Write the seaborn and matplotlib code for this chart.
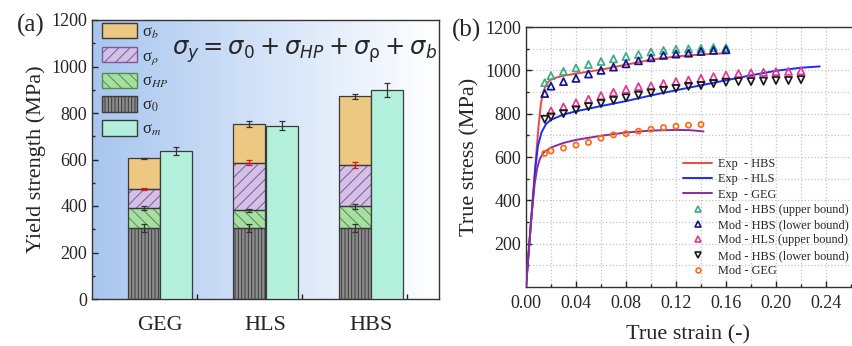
import numpy as np
import matplotlib
matplotlib.use("Agg")
import matplotlib.pyplot as plt
from matplotlib.colors import LinearSegmentedColormap
from matplotlib.patches import Patch
from matplotlib.lines import Line2D
import seaborn as sns

# ---------------- data ----------------
alloys = ["GEG", "HLS", "HBS"]
# strengthening contributions (MPa), stacked bottom to top
sigma_0 = [305, 305, 305]
sigma_hp = [86, 77, 93]
sigma_rho = [82, 205, 179]
sigma_b = [133, 165, 295]
sigma_m = [638, 745, 900]
# error on the top of each stacked layer
err_0 = [16, 16, 16]
err_hp = [8, 6, 10]
err_rho = [6, 12, 13]
err_b = [2, 12, 10]
err_m = [17, 20, 31]

# experimental true stress-strain curves
exp_hbs_strain = [0, 0.004, 0.008, 0.010, 0.012, 0.014, 0.017, 0.020, 0.025, 0.030, 0.040,
                  0.060, 0.080, 0.100, 0.120, 0.140, 0.160]
exp_hbs_stress = [0, 300, 600, 740, 850, 905, 942, 958, 968, 975, 985,
                  1003, 1026, 1049, 1064, 1073, 1079]
exp_hls_strain = [0, 0.004, 0.0075, 0.0095, 0.0125, 0.016, 0.020, 0.030, 0.040, 0.060, 0.080,
                  0.100, 0.120, 0.140, 0.160, 0.180, 0.200, 0.220, 0.235]
exp_hls_stress = [0, 300, 550, 650, 715, 752, 772, 796, 811, 835, 858,
                  884, 908, 931, 954, 977, 998, 1012, 1018]
exp_geg_strain = [0, 0.004, 0.007, 0.009, 0.011, 0.014, 0.020, 0.030, 0.040, 0.060, 0.080,
                  0.100, 0.120, 0.131, 0.142]
exp_geg_stress = [0, 300, 480, 550, 590, 620, 644, 665, 679, 698, 713,
                  722, 725, 724, 718]

# model predictions
mod_strain_16 = [0.015, 0.02, 0.03, 0.04, 0.05, 0.06, 0.07, 0.08, 0.09, 0.10,
                 0.11, 0.12, 0.13, 0.14, 0.15, 0.16]
mod_hbs_upper = [943, 975, 995, 1011, 1027, 1041, 1053, 1064, 1073, 1085,
                 1092, 1097, 1099, 1101, 1105, 1104]
mod_hbs_lower = [893, 927, 948, 963, 983, 1000, 1015, 1030, 1044, 1058,
                 1069, 1075, 1079, 1087, 1092, 1095]
mod_hls_upper_strain = [0.02, 0.03, 0.04, 0.05, 0.06, 0.07, 0.08, 0.09, 0.10, 0.11,
                        0.12, 0.13, 0.14, 0.15, 0.16, 0.17, 0.18, 0.19, 0.20, 0.21, 0.22]
mod_hls_upper = [813, 831, 850, 867, 883, 899, 912, 925, 928, 939,
                 948, 955, 963, 971, 978, 985, 988, 991, 994, 995, 998]
mod_hls_lower_strain = [0.015, 0.02, 0.03, 0.04, 0.05, 0.06, 0.07, 0.08, 0.09, 0.10, 0.11,
                        0.12, 0.13, 0.14, 0.15, 0.16, 0.17, 0.18, 0.19, 0.20, 0.21, 0.22]
mod_hls_lower = [774, 785, 800, 817, 832, 847, 861, 873, 885, 896, 908,
                 916, 926, 930, 939, 945, 948, 948, 950, 953, 953, 957]
mod_geg_strain = [0.015, 0.02, 0.03, 0.04, 0.05, 0.06, 0.07, 0.08, 0.09, 0.10,
                  0.11, 0.12, 0.13, 0.14]
mod_geg = [617, 628, 641, 655, 667, 687, 702, 708, 719, 728,
           736, 742, 747, 750]

# ---------------- style ----------------
sns.set_theme(style="ticks")
plt.rcParams["font.family"] = ["Liberation Serif", "DejaVu Sans"]
plt.rcParams["mathtext.fontset"] = "stix"
plt.rcParams["hatch.linewidth"] = 0.7
plt.rcParams["xtick.direction"] = "in"
plt.rcParams["ytick.direction"] = "in"
plt.rcParams["axes.edgecolor"] = "#333333"

fig = plt.figure(figsize=(8.52, 3.46), dpi=100)
ax1 = fig.add_axes([92 / 852, 1 - 299 / 346, (439 - 92) / 852, (299 - 20) / 346])
ax2 = fig.add_axes([526 / 852, 1 - 287 / 346, (851 - 526) / 852, (287 - 27) / 346])

# ---------------- (a) strength contributions ----------------
x0, x1 = 0.35, 3.65
grad = LinearSegmentedColormap.from_list("bg", ["#a8c6ef", "#d4e3f8", "#ffffff"])
ax1.imshow(np.linspace(0, 1, 256).reshape(1, -1), cmap=grad, aspect="auto",
           extent=[x0, x1, 0, 1200], zorder=0)

centers = np.arange(1, len(alloys) + 1)
w = 0.305
xs = centers - w / 2
xm = centers + w / 2
edge = "#3a3a3a"

layers = [
    (sigma_0, "#8c8c8c", "|||||", "#3c3c3c", err_0, "#333333"),
    (sigma_hp, "#a8dea2", "\\\\\\", "#4f8f4f", err_hp, "#333333"),
    (sigma_rho, "#d4c0e6", "///", "#7a5c98", err_rho, "#e8101a"),
    (sigma_b, "#edc883", None, edge, err_b, "#333333"),
]
bottom = np.zeros(len(alloys))
for vals, fc, hatch, hc, err, ec in layers:
    vals = np.asarray(vals, float)
    ax1.bar(xs, vals, w, bottom=bottom, color=fc, edgecolor=hc, hatch=hatch,
            linewidth=0, zorder=2)
    ax1.bar(xs, vals, w, bottom=bottom, facecolor="none", edgecolor=edge,
            linewidth=0.9, zorder=3)
    top = bottom + vals
    ax1.errorbar(xs, top, yerr=err, fmt="none", ecolor=ec, elinewidth=0.9,
                 capsize=2.5, capthick=0.9, zorder=4)
    bottom = top
ax1.bar(xm, sigma_m, w, color="#b3f0dc", edgecolor=edge, linewidth=0.9, zorder=3)
ax1.errorbar(xm, sigma_m, yerr=err_m, fmt="none", ecolor="#333333", elinewidth=0.9,
             capsize=2.5, capthick=0.9, zorder=4)

ax1.set_xlim(x0, x1)
ax1.set_ylim(0, 1200)
ax1.set_yticks(np.arange(0, 1201, 200))
ax1.set_yticks(np.arange(100, 1200, 200), minor=True)
ax1.set_xticks(centers)
ax1.set_xticklabels(alloys, fontsize=16)
ax1.tick_params(axis="x", which="major", length=0, pad=12)
ax1.set_xticks(np.concatenate([xs, centers + 0.348]), minor=True)
ax1.tick_params(axis="x", which="minor", length=3.5, width=1, color="#222222")
ax1.tick_params(axis="y", which="major", labelsize=13, length=4, width=1, color="#222222")
ax1.tick_params(axis="y", which="minor", length=2.5, width=1, color="#222222")
ax1.set_ylabel("Yield strength (MPa)", fontsize=16, labelpad=4)
for s in ax1.spines.values():
    s.set_linewidth(1.0)

handles1 = [
    Patch(facecolor="#edc883", edgecolor=edge, label="σ$_{b}$"),
    Patch(facecolor="#d4c0e6", edgecolor="#7a5c98", hatch="///", label="σ$_{\\rho}$"),
    Patch(facecolor="#a8dea2", edgecolor="#4f8f4f", hatch="\\\\\\", label="σ$_{HP}$"),
    Patch(facecolor="#8c8c8c", edgecolor="#3c3c3c", hatch="|||||", label="σ$_{0}$"),
    Patch(facecolor="#b3f0dc", edgecolor=edge, label="σ$_{m}$"),
]
ax1.legend(handles=handles1, loc="upper left", bbox_to_anchor=(102 / 852, 1 - 23 / 346),
           bbox_transform=fig.transFigure, frameon=False,
           fontsize=12, handlelength=2.1, handleheight=1.05, labelspacing=0.36,
           handletextpad=0.3, borderaxespad=0, borderpad=0)
fig.text(172 / 852, 1 - 51 / 346,
         r"$\sigma_y = \sigma_0 + \sigma_{HP} + \sigma_\mathrm{\rho} + \sigma_b$",
         fontsize=17.5, math_fontfamily="dejavusans", va="center", ha="left")
fig.text(17 / 852, 1 - 25 / 346, "(a)", fontsize=18, va="center", ha="left")

# ---------------- (b) stress-strain ----------------
ax2.grid(True, which="both", color="#c4c4c4", linestyle=":", linewidth=0.9)
ax2.set_axisbelow(True)
line_specs = [
    (exp_hbs_strain, exp_hbs_stress, "#f0463e", "Exp  - HBS"),
    (exp_hls_strain, exp_hls_stress, "#1a2cf5", "Exp  - HLS"),
    (exp_geg_strain, exp_geg_stress, "#8a2c9e", "Exp  - GEG"),
]
for sx, sy, c, lab in line_specs:
    sns.lineplot(x=sx, y=sy, ax=ax2, color=c, linewidth=1.4, sort=False,
                 estimator=None, zorder=3)

marker_specs = [
    (mod_strain_16, mod_hbs_upper, "#3aae86", "^", 26, "Mod - HBS (upper bound)"),
    (mod_strain_16, mod_hbs_lower, "#14148e", "^", 26, "Mod - HBS (lower bound)"),
    (mod_hls_upper_strain, mod_hls_upper, "#e23a92", "^", 26, "Mod - HLS (upper bound)"),
    (mod_hls_lower_strain, mod_hls_lower, "#1a1a1a", "v", 26, "Mod - HBS (lower bound)"),
    (mod_geg_strain, mod_geg, "#ff6a12", "o", 14, "Mod - GEG"),
]
for sx, sy, c, m, sz, lab in marker_specs:
    sns.scatterplot(x=sx, y=sy, ax=ax2, marker=m, s=sz, facecolor="none",
                    edgecolor=c, linewidth=1.25, zorder=4)

ax2.set_xlim(0, 0.26)
ax2.set_ylim(0, 1200)
ax2.set_xticks(np.arange(0, 0.241, 0.04))
ax2.set_xticklabels([f"{v:.2f}" for v in np.arange(0, 0.241, 0.04)])
ax2.set_xticks(np.arange(0.02, 0.261, 0.04), minor=True)
ax2.set_yticks(np.arange(200, 1201, 200))
ax2.set_yticks(np.arange(100, 1200, 200), minor=True)
ax2.tick_params(which="major", labelsize=13, length=4, width=1, color="#222222")
ax2.tick_params(which="minor", length=2.5, width=1, color="#222222")
ax2.tick_params(axis="x", pad=6)
ax2.set_xlabel("True strain (-)", fontsize=16, labelpad=9)
ax2.set_ylabel("True stress (MPa)", fontsize=16, labelpad=4)
ax2.spines["right"].set_visible(False)
for s in ax2.spines.values():
    s.set_linewidth(1.0)

handles2 = [Line2D([], [], color=c, lw=1.4, label=lab) for _, _, c, lab in line_specs]
handles2 += [Line2D([], [], linestyle="none", marker=m, markersize=4 if m != "o" else 3.5,
                    markerfacecolor="none", markeredgecolor=c, markeredgewidth=1.2, label=lab)
             for _, _, c, m, _, lab in marker_specs]
ax2.legend(handles=handles2, loc="upper left", bbox_to_anchor=(683 / 852, 1 - 158 / 346),
           bbox_transform=fig.transFigure, frameon=False, fontsize=8.8,
           handlelength=2.4, handletextpad=0.5, labelspacing=0.27, borderaxespad=0,
           borderpad=0)
fig.text(452 / 852, 1 - 30 / 346, "(b)", fontsize=18, va="center", ha="left")

fig.savefig("out.png", dpi=100)
